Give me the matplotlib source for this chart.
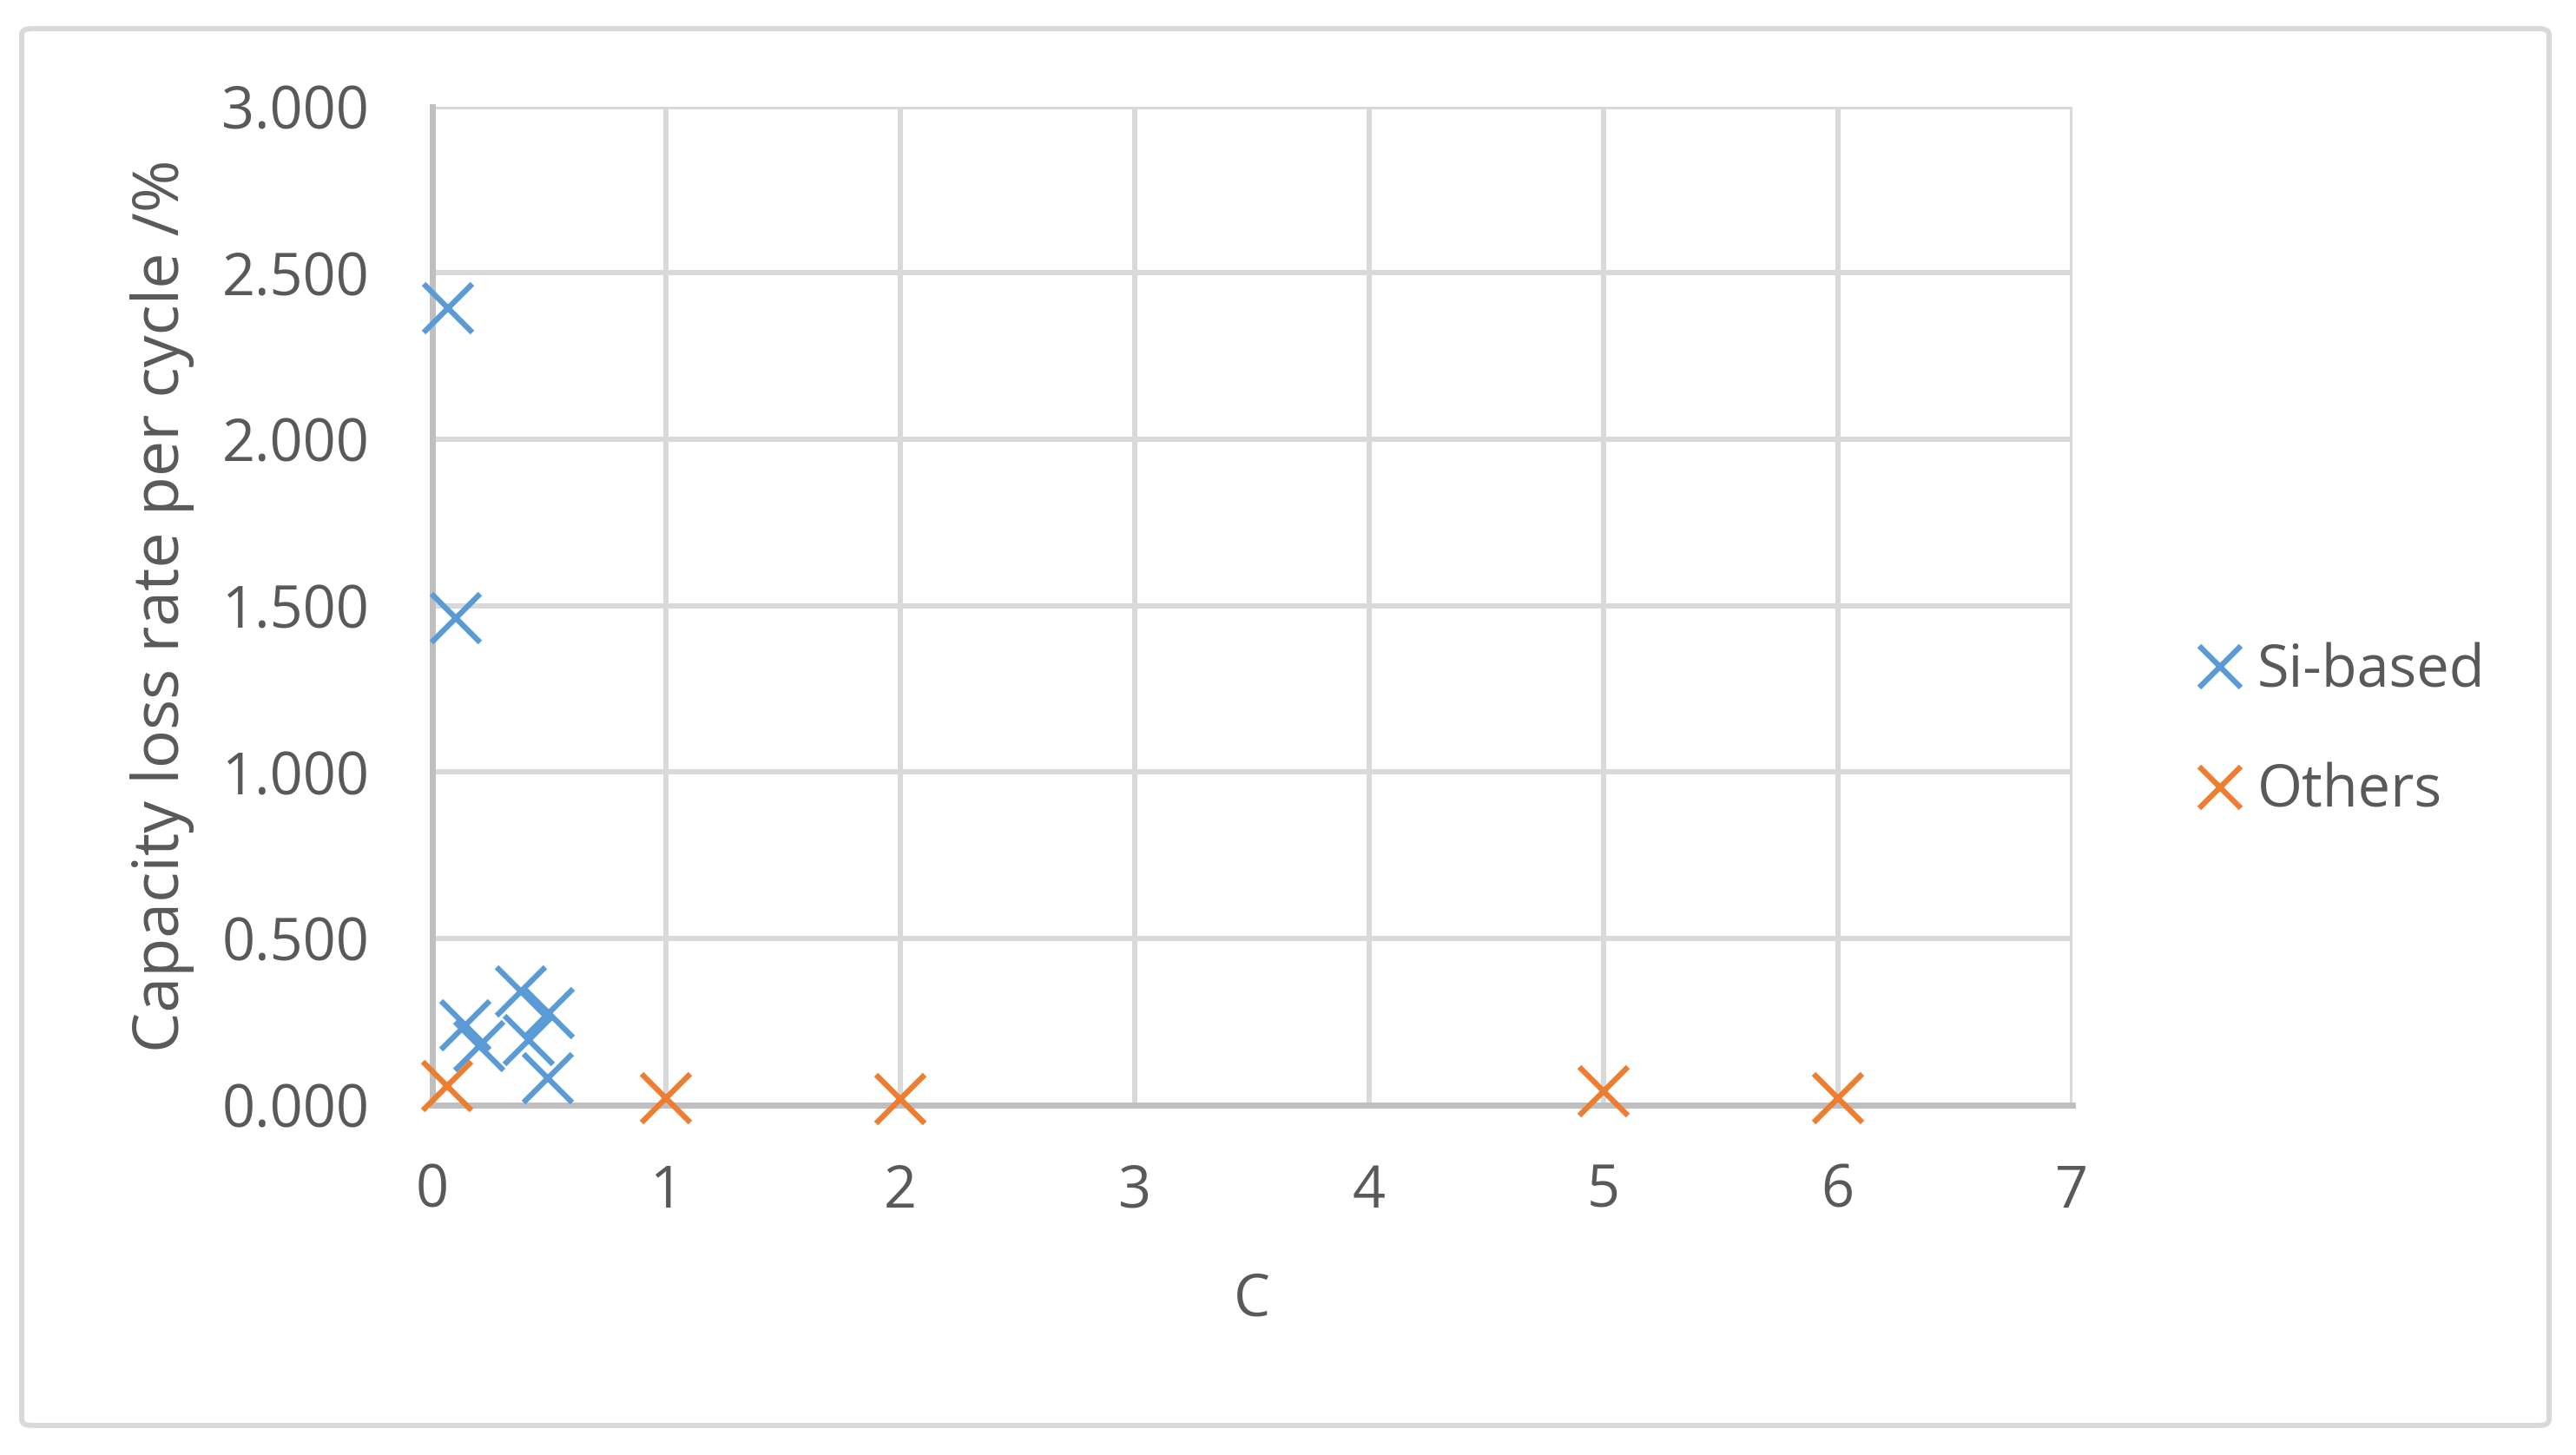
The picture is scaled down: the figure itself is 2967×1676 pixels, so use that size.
import matplotlib
matplotlib.use("Agg")
import matplotlib.pyplot as plt
from matplotlib.patches import FancyBboxPatch
from matplotlib.ticker import FormatStrFormatter

# ---- data ----
si_c = [0.069, 0.102, 0.143, 0.201, 0.381, 0.498, 0.415, 0.494]
si_loss = [2.395, 1.463, 0.238, 0.177, 0.342, 0.277, 0.194, 0.081]
oth_c = [0.065, 1.0, 2.0, 5.0, 6.0]
oth_loss = [0.057, 0.020, 0.017, 0.042, 0.020]
series_names = ["Si-based", "Others"]
x_label = "C"
y_label = "Capacity loss rate per cycle /%"
x_ticks = [0, 1, 2, 3, 4, 5, 6, 7]
y_ticks = [0.0, 0.5, 1.0, 1.5, 2.0, 2.5, 3.0]

BLUE = "#5B9BD5"
ORANGE = "#ED7D31"
TXT = "#595959"
GRID = "#D9D9D9"
AXC = "#BFBFBF"

plt.rcParams["font.family"] = ["Open Sans", "DejaVu Sans"]
FS = 48

W, H = 2967, 1676
fig = plt.figure(figsize=(W / 100, H / 100), dpi=100)
fig.patch.set_facecolor("white")

# outer border
border = FancyBboxPatch((25 / W, 34 / H), (2936 - 25) / W, (1643 - 34) / H,
                        boxstyle="round,pad=0,rounding_size=0.004",
                        transform=fig.transFigure, facecolor="none",
                        edgecolor=GRID, linewidth=4.3, zorder=0)
fig.patches.append(border)

left, right = 497.5 / W, 2386.5 / W
bottom, top = 1 - 1272.7 / H, 1 - 122.7 / H
ax = fig.add_axes([left, bottom, right - left, top - bottom])
ax.set_xlim(0, 7)
ax.set_ylim(0, 3)
ax.set_xticks(x_ticks)
ax.set_yticks(y_ticks)
ax.yaxis.set_major_formatter(FormatStrFormatter("%.3f"))
ax.tick_params(length=0, labelsize=FS, labelcolor=TXT)
ax.tick_params(axis="x", pad=48)
ax.tick_params(axis="y", pad=52)

ax.grid(True, color=GRID, linewidth=4.3, zorder=0)
ax.set_axisbelow(True)
for s in ["top", "right"]:
    ax.spines[s].set_visible(False)
ax.spines["left"].set_color(AXC)
ax.spines["bottom"].set_color(AXC)
ax.spines["left"].set_linewidth(5)
ax.spines["bottom"].set_linewidth(5)
ax.spines["left"].set_zorder(1.5)
ax.spines["bottom"].set_zorder(1.5)

ax.plot(si_c, si_loss, linestyle="none", marker="x", markersize=40,
        markeredgewidth=4.6, color=BLUE, label=series_names[0],
        clip_on=False, zorder=3)
ax.plot(oth_c, oth_loss, linestyle="none", marker="x", markersize=40,
        markeredgewidth=4.6, color=ORANGE, label=series_names[1],
        clip_on=False, zorder=4)

ax.set_xlabel(x_label, fontsize=FS, color=TXT)
ax.xaxis.set_label_coords(0.5, (1272.7 - 1498) / (1272.7 - 122.7))
ax.xaxis.label.set_va("center")
ax.set_ylabel(y_label, fontsize=53, color=TXT)
ax.yaxis.label.set_va("center")
ax.yaxis.set_label_coords((187 - 497.5) / (2386.5 - 497.5), 0.5)

leg = ax.legend(loc="center left", bbox_to_anchor=(2530 / W, 1 - 843 / H),
                bbox_transform=fig.transFigure, frameon=False, fontsize=FS,
                labelcolor=TXT, handlelength=0.8, handletextpad=0.25,
                labelspacing=1.06, borderpad=0, borderaxespad=0,
                markerscale=0.85, numpoints=1)

fig.savefig("out.png", dpi=100, facecolor="white")
